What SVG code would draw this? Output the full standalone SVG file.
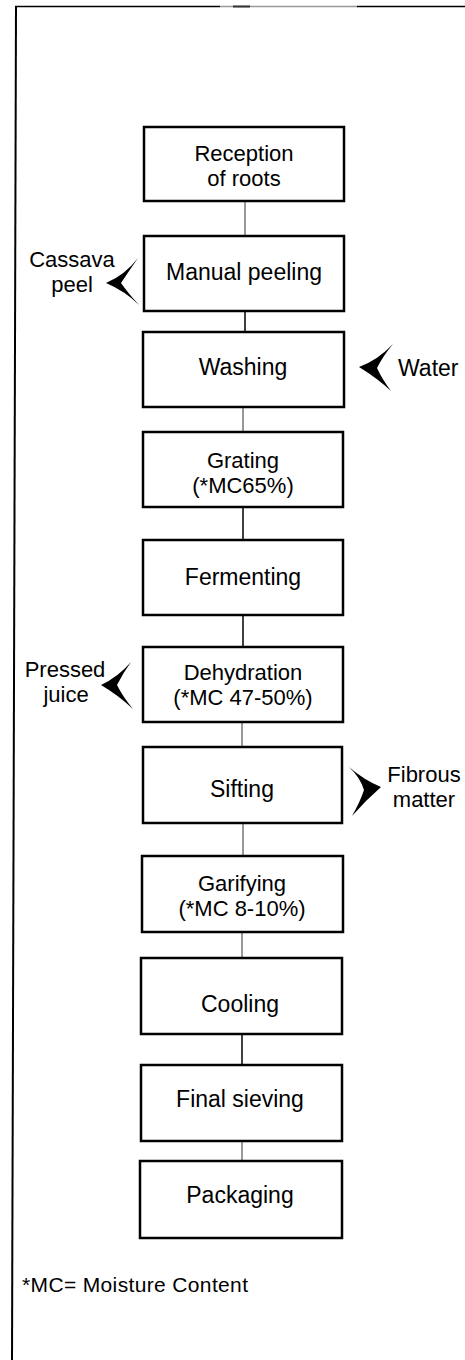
<svg xmlns="http://www.w3.org/2000/svg" width="465" height="1360" viewBox="0 0 465 1360">
<style>
.box{fill:#fff;stroke:#000;stroke-width:2.5}
.t{font-family:"Liberation Sans",Arial,sans-serif;font-size:23px;fill:#000;text-anchor:middle}
.t2{font-family:"Liberation Sans",Arial,sans-serif;font-size:22px;fill:#000;text-anchor:middle}
.c{stroke:#000;stroke-width:1.5;fill:none}
.cg{stroke:#555;stroke-width:1.2;fill:none}
.chev{fill:#000}
</style>
<rect width="465" height="1360" fill="#fff"/>
<g id="frame">
<line x1="15" y1="6.5" x2="220" y2="6.5" stroke="#000" stroke-width="1.5"/>
<line x1="220" y1="6.5" x2="357" y2="6.5" stroke="#999" stroke-width="1.5"/>
<line x1="233" y1="6.5" x2="250" y2="6.5" stroke="#333" stroke-width="2"/>
<line x1="357" y1="6.5" x2="465" y2="6.5" stroke="#000" stroke-width="1.5"/>
<line x1="16" y1="6" x2="12" y2="1360" stroke="#000" stroke-width="2"/>
</g>
<g id="connectors">
<line class="cg" x1="245" y1="201" x2="245" y2="236"/>
<line class="c" x1="245" y1="311" x2="245" y2="332"/>
<line class="cg" x1="243" y1="407" x2="243" y2="432"/>
<line class="c" x1="243" y1="507" x2="243" y2="540"/>
<line class="c" x1="243" y1="615" x2="243" y2="647"/>
<line class="cg" x1="242" y1="722" x2="242" y2="747"/>
<line class="cg" x1="243" y1="823" x2="243" y2="856"/>
<line class="cg" x1="242" y1="932" x2="242" y2="958"/>
<line class="c" x1="242" y1="1034" x2="242" y2="1065"/>
<line class="cg" x1="242" y1="1141" x2="242" y2="1161"/>
</g>
<g id="reception"><rect class="box" x="144" y="127" width="200" height="74"/><text class="t2"><tspan x="244" y="161">Reception</tspan><tspan x="244" y="186">of roots</tspan></text></g>
<g id="peeling"><rect class="box" x="144" y="236" width="200" height="75"/><text class="t" x="244" y="280">Manual peeling</text></g>
<g id="washing"><rect class="box" x="143" y="332" width="201" height="75"/><text class="t" x="243" y="375">Washing</text></g>
<g id="grating"><rect class="box" x="143" y="432" width="200" height="75" stroke-width="3"/><text class="t2"><tspan x="243" y="468">Grating</tspan><tspan x="243" y="493">(*MC65%)</tspan></text></g>
<g id="fermenting"><rect class="box" x="143" y="540" width="200" height="75" stroke-width="3"/><text class="t" x="243" y="585">Fermenting</text></g>
<g id="dehydration"><rect class="box" x="143" y="647" width="200" height="75"/><text class="t2"><tspan x="243" y="680">Dehydration</tspan><tspan x="243" y="705">(*MC 47-50%)</tspan></text></g>
<g id="sifting"><rect class="box" x="143" y="747" width="199" height="76"/><text class="t" x="242" y="797">Sifting</text></g>
<g id="garifying"><rect class="box" x="142" y="856" width="201" height="76" stroke-width="3"/><text class="t2"><tspan x="242" y="891">Garifying</tspan><tspan x="242" y="916">(*MC 8-10%)</tspan></text></g>
<g id="cooling"><rect class="box" x="141" y="958" width="201" height="76" stroke-width="3"/><text class="t" x="240" y="1012">Cooling</text></g>
<g id="final-sieving"><rect class="box" x="141" y="1065" width="201" height="76"/><text class="t" x="240" y="1107">Final sieving</text></g>
<g id="packaging"><rect class="box" x="140" y="1161" width="202" height="77"/><text class="t" x="240" y="1203">Packaging</text></g>
<g id="cassava-peel">
<path class="chev" d="M138,258 Q125,275 106,283 Q125,291 139,305 Q128,293 121,283 Q129,271 138,258 Z"/>
<text class="t2"><tspan x="72" y="267">Cassava</tspan><tspan x="72" y="292">peel</tspan></text>
</g>
<g id="water">
<path class="chev" d="M393,344 Q378,360 359,367 Q377,378 391,391 Q382,379 377,368 Q383,356 393,344 Z"/>
<text class="t" x="398" y="376" style="text-anchor:start">Water</text>
</g>
<g id="pressed-juice">
<path class="chev" d="M131,662 Q118,677 101,685 Q118,695 133,709 Q123,697 117,685 Q123,673 131,662 Z"/>
<text class="t2"><tspan x="65" y="677">Pressed</tspan><tspan x="66" y="702">juice</tspan></text>
</g>
<g id="fibrous-matter">
<path class="chev" d="M349,767 Q364,780 381,787 Q366,800 352,816 Q360,802 364,790 Q360,777 349,767 Z"/>
<text class="t2"><tspan x="424" y="782">Fibrous</tspan><tspan x="424" y="807">matter</tspan></text>
</g>
<g id="footnote"><text x="22" y="1292" font-family="Liberation Sans, Arial, sans-serif" font-size="21" textLength="226">*MC= Moisture Content</text></g>
</svg>
